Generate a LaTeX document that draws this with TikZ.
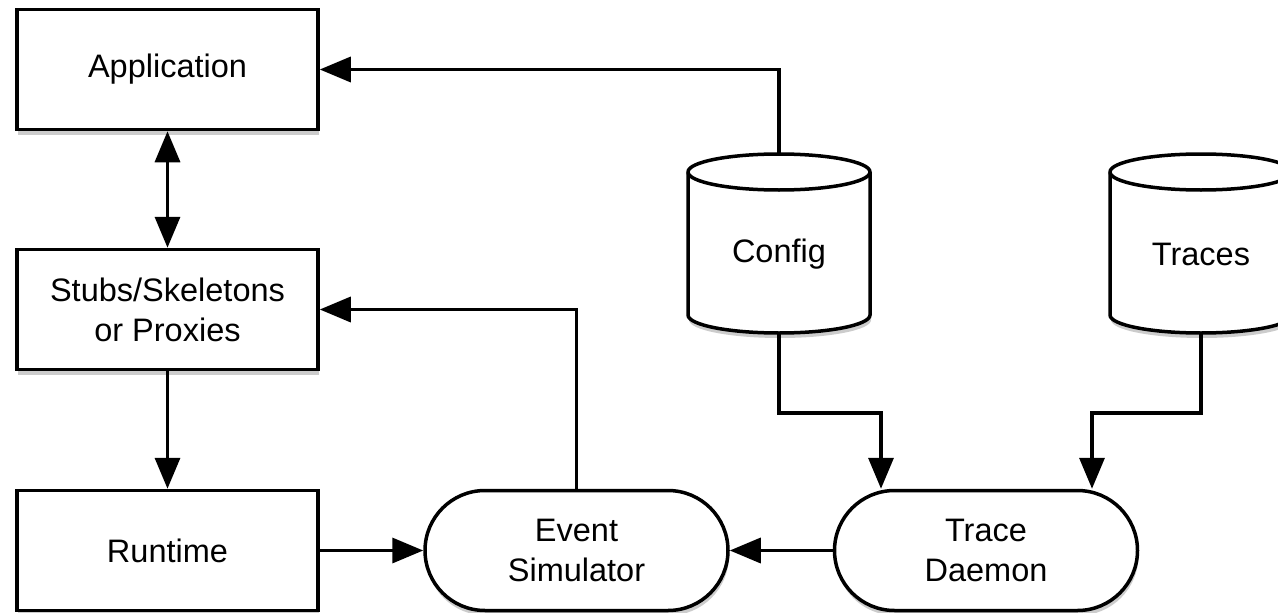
\documentclass[tikz,border=0pt]{standalone}
\usepackage{fontspec}
\setmainfont{Liberation Sans}
\usetikzlibrary{arrows.meta,shapes.misc,shadows}
\begin{document}
\begin{tikzpicture}[x=1pt,y=1pt,
  line width=3.5pt,
  font=\fontsize{32.5}{40}\selectfont,
  shad/.style={drop shadow={shadow xshift=1pt,shadow yshift=-5pt,opacity=0.2,fill=black}},
  boxnode/.style={draw,fill=white,rectangle,minimum width=301pt,minimum height=120pt,align=center,inner sep=0pt,shad},
  pill/.style={draw,fill=white,rounded rectangle,minimum width=303pt,minimum height=120pt,align=center,inner sep=0pt,shad},
  conn/.style={-{Triangle[length=31pt,width=25pt]}},
  biconn/.style={{Triangle[length=31pt,width=25pt]}-{Triangle[length=31pt,width=25pt]}},
  textnode/.style={inner sep=0pt,align=center}
]
\useasboundingbox (0,0) rectangle (1278,-613);

% boxes
\node[boxnode] (app) at (167.5,-69.5) {Application};
\node[boxnode] (stubs) at (167.5,-309.5) {Stubs/Skeletons\\or Proxies};
\node[boxnode] (runtime) at (167.5,-550.5) {Runtime};

% pills
\node[pill] (event) at (576.5,-550.5) {Event\\Simulator};
\node[pill] (trace) at (986,-550.5) {Trace\\Daemon};

% cylinders
\begin{scope}
  \fill[black,opacity=0.2] (689,-177) -- (689,-320) arc(180:360:91 and 18) -- (871,-177) -- cycle;
  \draw[fill=white] (688,-172) -- (688,-315) arc(180:360:91 and 18) -- (870,-172) arc(0:180:91 and 18) -- cycle;
  \draw (688,-172) arc(180:360:91 and 18);
  \fill[black,opacity=0.2] (1111,-177) -- (1111,-320) arc(180:360:91 and 18) -- (1293,-177) -- cycle;
  \draw[fill=white] (1110,-172) -- (1110,-315) arc(180:360:91 and 18) -- (1292,-172) arc(0:180:91 and 18) -- cycle;
  \draw (1110,-172) arc(180:360:91 and 18);
\end{scope}
\node[textnode] (config) at (779,-254) {Config};
\node[textnode] (traces) at (1201,-254) {Traces};
\coordinate (configtop) at (779,-154);
\coordinate (configbot) at (779,-333);
\coordinate (tracestop) at (1201,-154);
\coordinate (tracesbot) at (1201,-333);
\coordinate (configelbow) at (779,-413);
\coordinate (traceselbow) at (1201,-413);

% connectors
\draw[biconn] (app.south) -- (stubs.north);
\draw[conn] (stubs.south) -- (runtime.north);
\draw[conn] (runtime.east) -- (event.west);
\draw[conn] (trace.west) -- (event.east);
\draw[conn] (event.north) |- (stubs.east);
\draw[conn] (configtop) |- (app.east);
\draw[conn] (configbot) -- (configelbow) -| ([xshift=-105pt]trace.north);
\draw[conn] (tracesbot) -- (traceselbow) -| ([xshift=106pt]trace.north);
\end{tikzpicture}
\end{document}
